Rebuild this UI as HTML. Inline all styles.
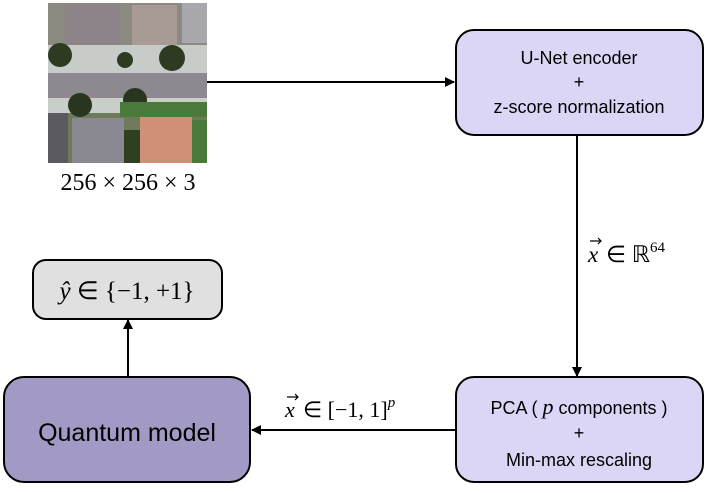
<!DOCTYPE html>
<html><head><style>
body{margin:0;background:#fff;width:706px;height:488px;overflow:hidden;font-family:"Liberation Sans",sans-serif}
.m{font-family:"Liberation Serif",serif}
</style></head><body>
<svg width="706" height="488" xmlns="http://www.w3.org/2000/svg">
<defs><marker id="a" markerWidth="10" markerHeight="10" refX="9" refY="5" orient="auto" markerUnits="userSpaceOnUse"><path d="M0,0 L10,5 L0,10 z" fill="#000"/></marker></defs>
<g>
<rect x="48" y="3" width="159" height="160" fill="#6e7a5a"/>
<rect x="48" y="3" width="159" height="70" fill="#8a8a80"/>
<rect x="65" y="5" width="55" height="45" fill="#8c8488"/>
<rect x="132" y="5" width="45" height="45" fill="#a89a95"/>
<rect x="182" y="3" width="25" height="40" fill="#a8a8ac"/>
<rect x="48" y="45" width="159" height="28" fill="#c8ccc8"/>
<circle cx="60" cy="55" r="12" fill="#2e3a22"/>
<circle cx="172" cy="58" r="13" fill="#2e3a22"/>
<circle cx="125" cy="60" r="8" fill="#2e3a22"/>
<rect x="48" y="73" width="159" height="25" fill="#8e8890"/>
<rect x="48" y="98" width="159" height="15" fill="#c8cfc8"/>
<circle cx="80" cy="105" r="12" fill="#2a3520"/>
<circle cx="135" cy="100" r="12" fill="#2a3520"/>
<rect x="120" y="102" width="87" height="15" fill="#4a7a3a"/>
<rect x="48" y="113" width="20" height="50" fill="#5a5a60"/>
<rect x="72" y="118" width="52" height="45" fill="#8a8890"/>
<rect x="140" y="117" width="52" height="46" fill="#d09078"/>
<rect x="124" y="130" width="16" height="33" fill="#2e4020"/>
<rect x="192" y="120" width="15" height="43" fill="#4a7a3a"/>
</g>
<text x="128" y="190" text-anchor="middle" class="m" font-size="24">256 × 256 × 3</text>
<line x1="207" y1="82" x2="454" y2="82" stroke="#000" stroke-width="2" marker-end="url(#a)"/>
<line x1="577" y1="135" x2="577" y2="376" stroke="#000" stroke-width="2" marker-end="url(#a)"/>
<line x1="455" y1="430" x2="252" y2="430" stroke="#000" stroke-width="2" marker-end="url(#a)"/>
<line x1="128" y1="377" x2="128" y2="320" stroke="#000" stroke-width="2" marker-end="url(#a)"/>
<rect x="456" y="30" width="247" height="105" rx="18" fill="#dcd6f6" stroke="#000" stroke-width="2"/>
<text x="579" y="64" text-anchor="middle" font-size="18">U-Net encoder</text>
<text x="579" y="88" text-anchor="middle" font-size="18">+</text>
<text x="579" y="113" text-anchor="middle" font-size="18">z-score normalization</text>
<rect x="456" y="377" width="247" height="105" rx="18" fill="#dcd6f6" stroke="#000" stroke-width="2"/>
<text x="579" y="414" text-anchor="middle" font-size="18">PCA ( <tspan class="m" font-style="italic" font-size="22">p</tspan> components )</text>
<text x="579" y="439" text-anchor="middle" font-size="18">+</text>
<text x="579" y="466" text-anchor="middle" font-size="18">Min-max rescaling</text>
<rect x="4" y="377" width="246" height="105" rx="20" fill="#a29ac4" stroke="#000" stroke-width="2"/>
<text x="127" y="441" text-anchor="middle" font-size="25">Quantum model</text>
<rect x="33" y="260" width="189" height="59" rx="13" fill="#e0e0e0" stroke="#000" stroke-width="2"/>
<text x="127" y="299" text-anchor="middle" class="m" font-size="25"><tspan font-style="italic">ŷ</tspan> ∈ {−1, +1}</text>
<!-- x vec R64 -->
<text x="588" y="262" class="m" font-size="23" font-style="italic">x</text>
<path d="M590,241 L601,241 M598,238 L601,241 L598,244" stroke="#000" stroke-width="1.2" fill="none"/>
<text x="606" y="262" class="m" font-size="23">∈ ℝ<tspan font-size="15" dy="-10">64</tspan></text>
<!-- x vec [-1,1]^p -->
<text x="285" y="417" class="m" font-size="22" font-style="italic">x</text>
<path d="M287,397 L298,397 M295,394 L298,397 L295,400" stroke="#000" stroke-width="1.2" fill="none"/>
<text x="303" y="417" class="m" font-size="22">∈ [−1,  1]<tspan font-size="15" dy="-10" font-style="italic">p</tspan></text>
</svg>
</body></html>
